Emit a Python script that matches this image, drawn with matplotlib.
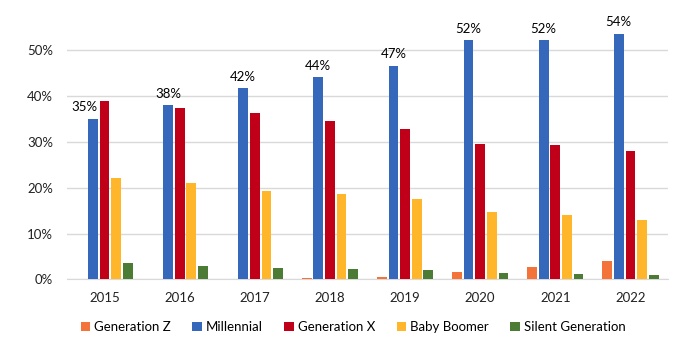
import numpy as np
import matplotlib
matplotlib.use("Agg")
import matplotlib.pyplot as plt

plt.rcParams['font.family'] = ['Lato', 'DejaVu Sans']

years = ["2015", "2016", "2017", "2018", "2019", "2020", "2021", "2022"]
gen_z = [0.0, 0.0, 0.0, 0.2, 0.6, 1.6, 2.7, 4.0]
millennial = [35.0, 38.0, 41.7, 44.1, 46.6, 52.2, 52.2, 53.6]
gen_x = [39.0, 37.5, 36.2, 34.6, 32.9, 29.5, 29.3, 28.1]
boomer = [22.1, 21.0, 19.3, 18.6, 17.5, 14.8, 14.0, 13.0]
silent = [3.5, 2.9, 2.5, 2.2, 2.0, 1.4, 1.2, 0.9]

series = ["Generation Z", "Millennial", "Generation X", "Baby Boomer", "Silent Generation"]
colors = ["#F4733A", "#3567BA", "#C00018", "#FFB62B", "#4B7B34"]

fig = plt.figure(figsize=(6.89, 3.54), dpi=100)
ax = fig.add_axes([0.0972, 0.211, 0.8723, 0.744])

x = np.arange(len(years))
step = 0.155
bw = 0.13
data = [gen_z, millennial, gen_x, boomer, silent]
for i, (name, vals, c) in enumerate(zip(series, data, colors)):
    ax.bar(x + (i - 2) * step, np.array(vals) / 100, bw, color=c, label=name, zorder=3)

# labels on the millennial bars
for j, v in enumerate(millennial):
    dx = -6 if j == 0 else 0
    ax.annotate(f"{round(v)}%", (x[j] - step, v / 100), xytext=(dx, 4),
                textcoords="offset points", ha="center", va="bottom", fontsize=9.5)

ax.set_xlim(-0.5, len(years) - 0.5)
ax.set_ylim(0, 0.575)
ax.set_yticks(np.arange(0, 0.51, 0.1))
ax.set_yticklabels([f"{int(t * 100)}%" for t in np.arange(0, 0.51, 0.1)])
ax.set_xticks(x)
ax.set_xticklabels(years)
ax.tick_params(axis="both", length=0, labelsize=9.5, colors="#222222")
ax.tick_params(axis="y", pad=10)
ax.tick_params(axis="x", pad=9)
ax.yaxis.grid(True, color="#d9d9d9", linewidth=1, zorder=0)
for s in ["top", "right", "left"]:
    ax.spines[s].set_visible(False)
ax.spines["bottom"].set_color("#d9d9d9")

fig.legend(loc="center", bbox_to_anchor=(353 / 689, 1 - 327 / 354), ncol=5, frameon=False,
           fontsize=9.5, handlelength=0.7, handleheight=0.7, handletextpad=0.3,
           columnspacing=1.65)

fig.savefig("out.png", dpi=100)
